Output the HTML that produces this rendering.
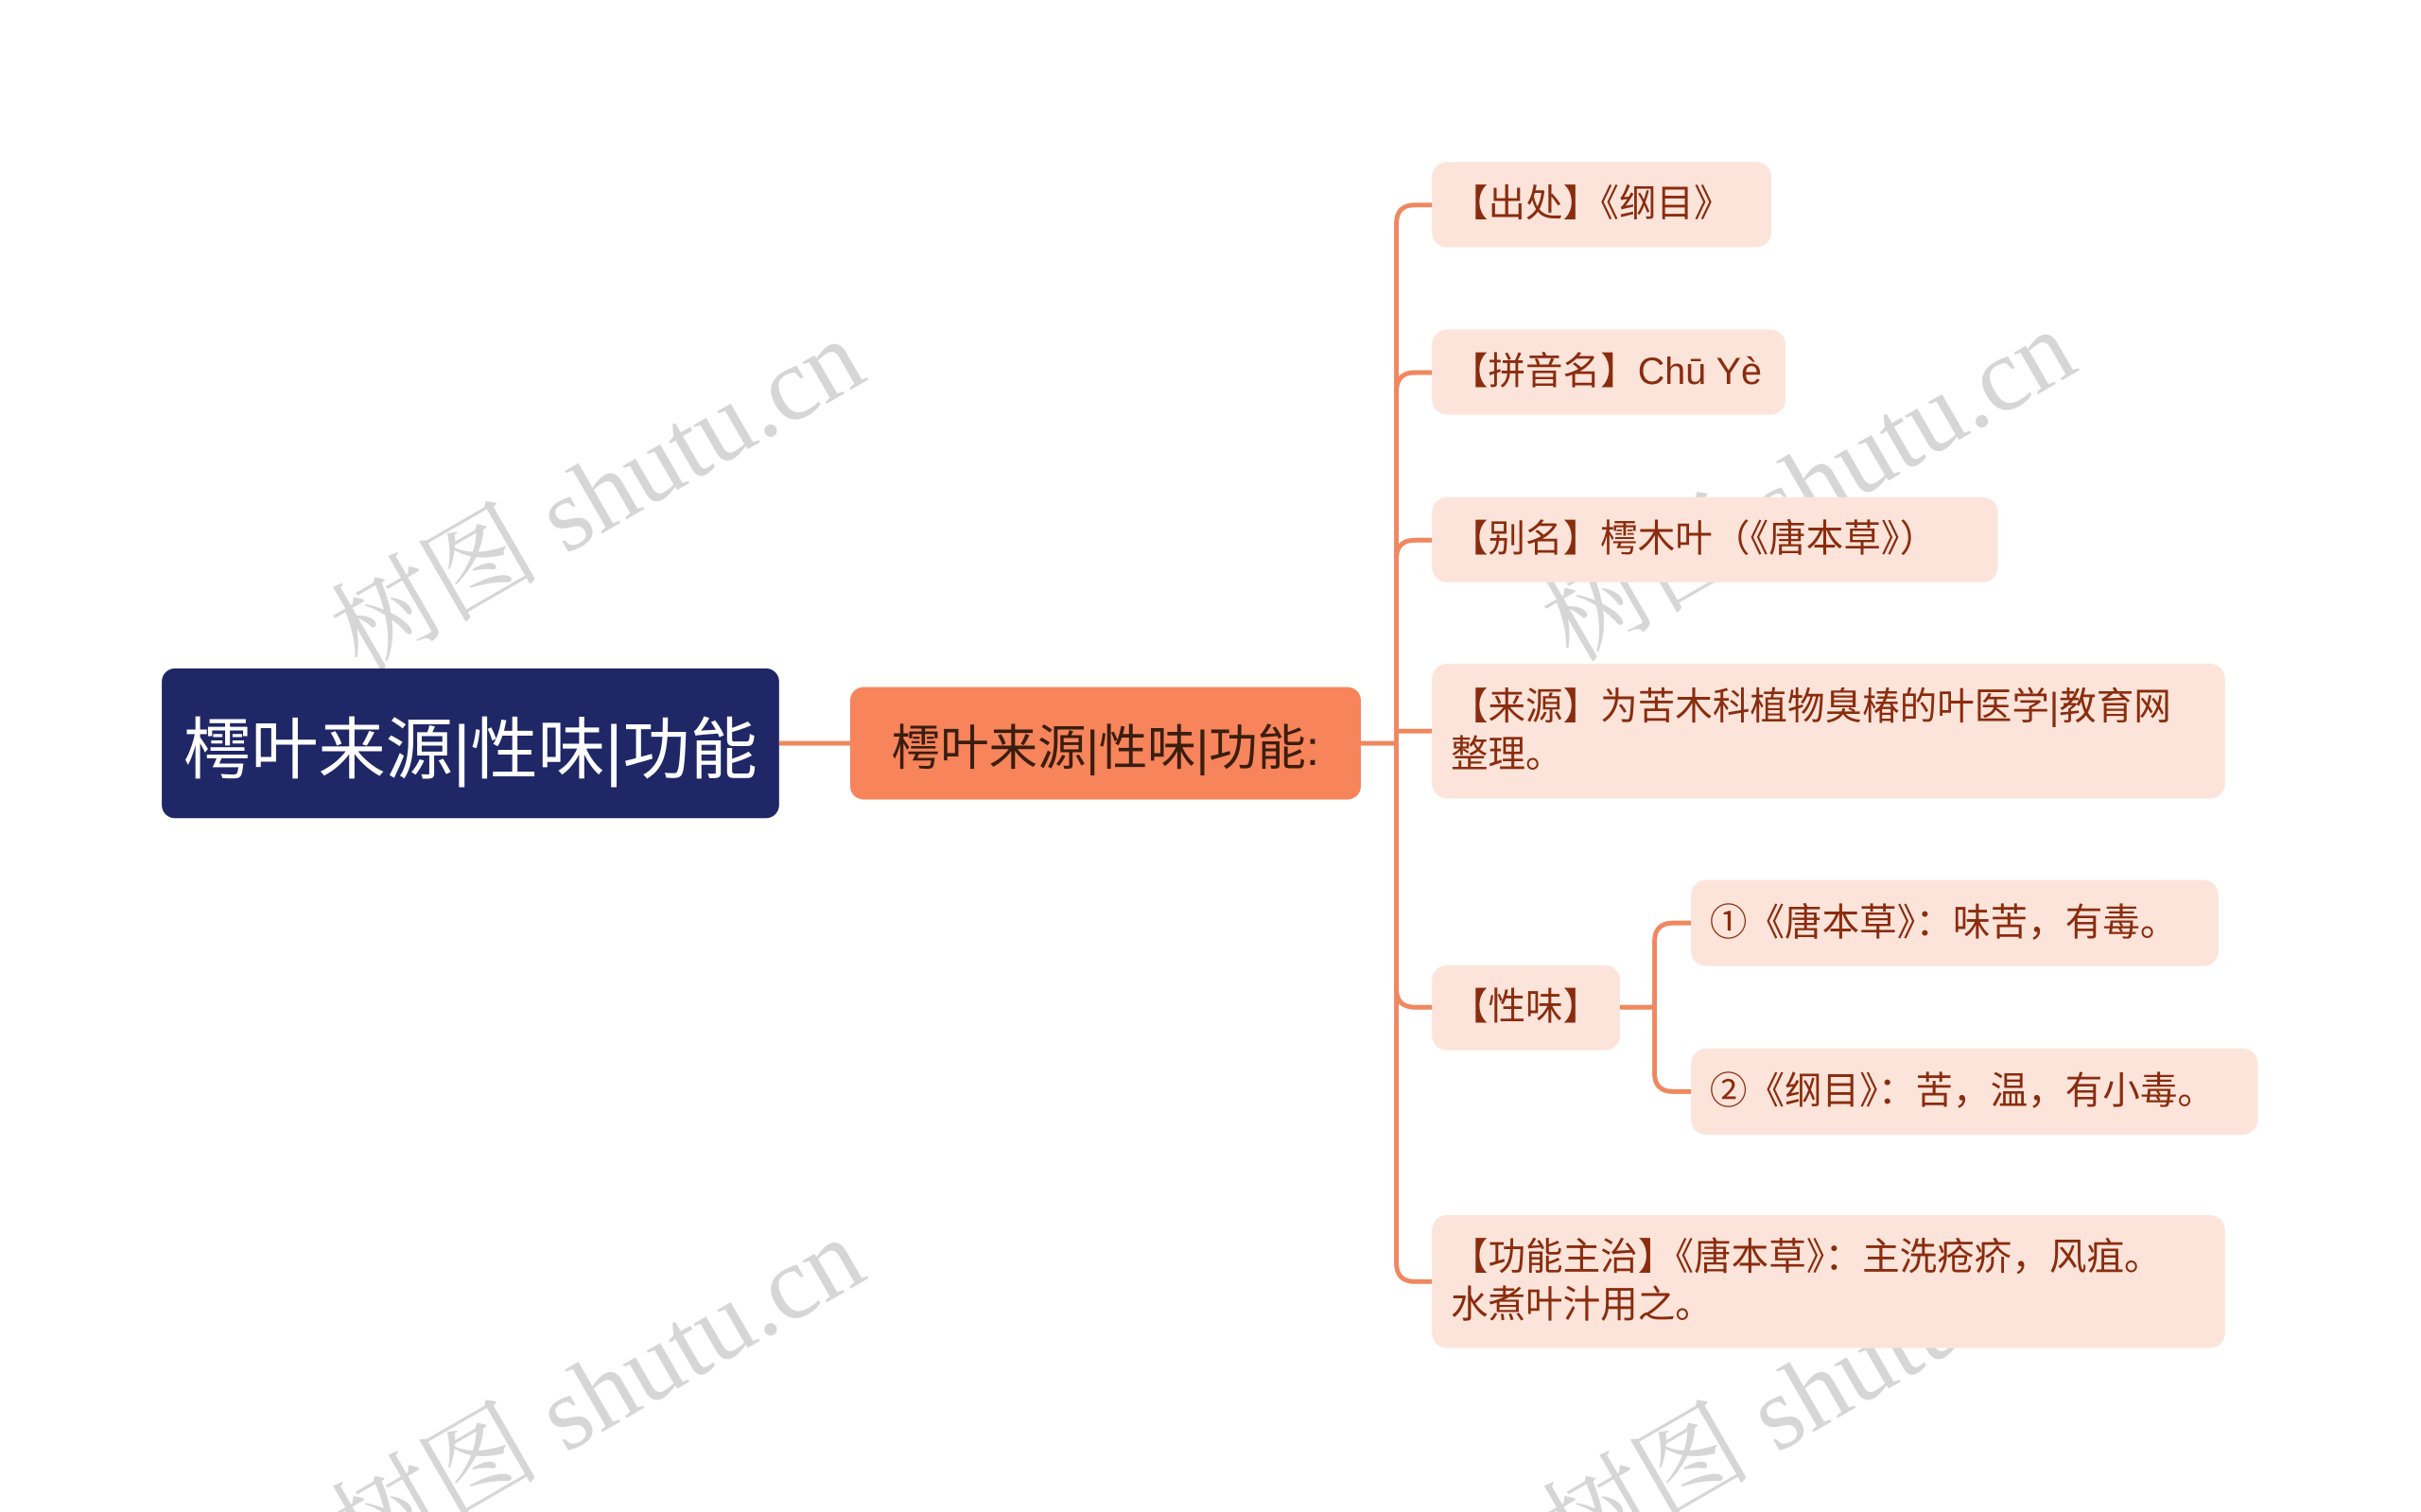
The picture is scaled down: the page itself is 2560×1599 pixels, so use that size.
<!DOCTYPE html>
<html><head><meta charset="utf-8"><style>
html{margin:0;padding:0;background:#fff;width:2560px;height:1599px;overflow:hidden;}
body{margin:0;padding:0;background:#fff;width:2560px;height:1599px;position:relative;overflow:hidden;font-family:"Liberation Sans","Noto Sans CJK SC",sans-serif;}
#c{position:absolute;left:0;top:0;width:2560px;height:1599px;overflow:hidden;}
#w{position:absolute;left:0;top:0;width:2560px;height:1599px;transform:scale(0.989,0.99);transform-origin:0 0;}
.b{position:absolute;box-sizing:border-box;background:#fde4da;border-radius:16px;color:#8a2c0e;font-size:40px;line-height:51px;padding:0 20px;display:flex;align-items:center;white-space:nowrap;}
.wm{position:absolute;font-family:"Liberation Serif","Noto Serif CJK SC",serif;font-size:112px;color:rgba(0,0,0,0.16);transform:rotate(-30deg);white-space:nowrap;transform-origin:center;}
</style></head><body><div id="c"><div id="w">
<svg width="2560" height="1599" style="position:absolute;left:0;top:0" fill="none" stroke="#f0875f" stroke-width="5">
<path d="M833 794 H909"/>
<path d="M1455 794 H1493"/>
<path d="M1531 219 H1513 Q1493 219 1493 239 V1349 Q1493 1369 1513 1369 H1531"/>
<path d="M1493 418 Q1493 398 1513 398 H1531"/>
<path d="M1493 597 Q1493 577 1513 577 H1531"/>
<path d="M1493 781 H1531"/>
<path d="M1493 1056 Q1493 1076 1513 1076 H1531"/>
<path d="M1732 1076 H1769"/>
<path d="M1808 986 H1789 Q1769 986 1769 1006 V1146 Q1769 1166 1789 1166 H1808"/>
</svg>
<div class="wm" style="left:320px;top:440px">树图 shutu.cn</div>
<div class="wm" style="left:1615px;top:430px">树图 shutu.cn</div>
<div class="wm" style="left:320px;top:1400px">树图 shutu.cn</div>
<div class="wm" style="left:1615px;top:1400px">树图 shutu.cn</div>
<div style="position:absolute;left:173px;top:714px;width:660px;height:160px;background:#1f2766;border-radius:14px;color:#fff;font-size:72px;display:flex;align-items:center;justify-content:center;">樗叶来源|性味|功能</div>
<div style="position:absolute;left:909px;top:734px;width:546px;height:120px;background:#f7845a;border-radius:14px;color:#3a1e10;font-size:52px;display:flex;align-items:center;justify-content:center;">樗叶来源|性味|功能:</div>
<div class="b" style="left:1531px;top:173px;width:363px;height:91px">【出处】《纲目》</div>
<div class="b" style="left:1531px;top:352px;width:378px;height:91px">【拼音名】Chū Yè</div>
<div class="b" style="left:1531px;top:531px;width:605px;height:91px">【别名】樗木叶（《唐本草》）</div>
<div class="b" style="left:1531px;top:709px;width:848px;height:144px">【来源】为苦木科植物臭椿的叶医学|教育网<br>整理。</div>
<div class="b" style="left:1531px;top:1031px;width:201px;height:91px">【性味】</div>
<div class="b" style="left:1808px;top:940px;width:564px;height:92px">①《唐本草》：味苦，有毒。</div>
<div class="b" style="left:1808px;top:1120px;width:606px;height:92px">②《纲目》：苦，温，有小毒。</div>
<div class="b" style="left:1531px;top:1298px;width:848px;height:142px">【功能主治】《唐本草》：主洗疮疥，风疽。<br>水煮叶汁用之。</div>
</div></div></body></html>
